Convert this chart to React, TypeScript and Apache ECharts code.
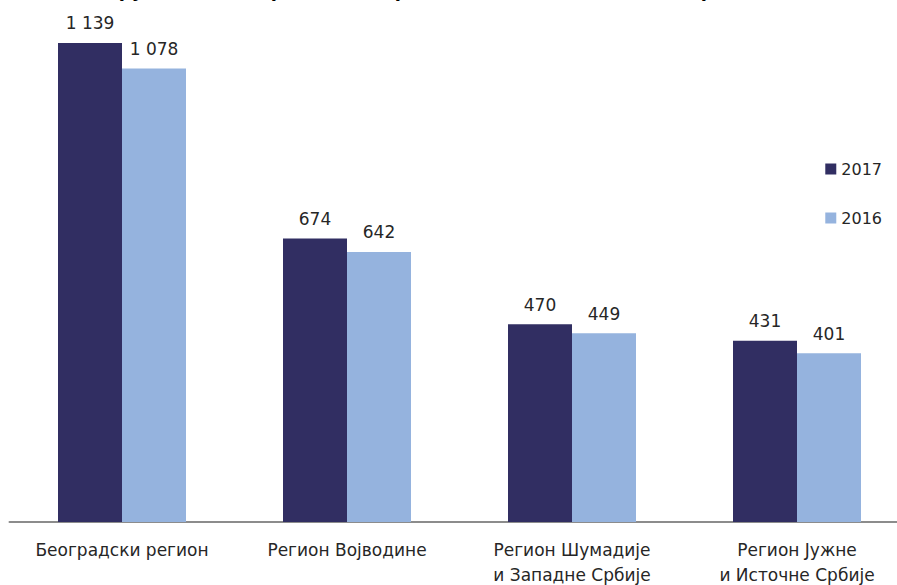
import React, { useEffect, useRef } from "react";
import * as echarts from "echarts";

const categories = [
  "Београдски регион",
  "Регион Војводине",
  "Регион Шумадије\nи Западне Србије",
  "Регион Јужне\nи Источне Србије",
];
const series2017 = [1139, 674, 470, 431];
const series2016 = [1078, 642, 449, 401];
const seriesNames = ["2017", "2016"];
const titleText = "Бруто домаћи производ по регионима, 2016. и 2017. (млрд. РСД)";

const FONT = "'DejaVu Sans', 'Open Sans', sans-serif";

function fmt(v: number): string {
  return String(v).replace(/\B(?=(\d{3})+(?!\d))/g, " ");
}

export default function App() {
  const ref = useRef<HTMLDivElement>(null);
  useEffect(() => {
    document.body.style.margin = "0";
    const chart = echarts.init(ref.current!, null, { renderer: "svg" });
    const label = {
      show: true,
      position: "top" as const,
      distance: 11,
      color: "#262626",
      fontSize: 17,
      fontFamily: FONT,
      formatter: (p: any) => fmt(p.value),
    };
    chart.setOption({
      animation: false,
      backgroundColor: "#ffffff",
      title: {
        text: titleText,
        left: "center",
        top: -24,
        textStyle: { fontSize: 18, fontWeight: "bold", color: "#000", fontFamily: FONT },
      },
      legend: {
        orient: "vertical",
        right: 10,
        top: 156,
        itemWidth: 11,
        itemHeight: 11,
        itemGap: 33,
        icon: "rect",
        textStyle: { fontSize: 16, color: "#262626", fontFamily: FONT },
        data: seriesNames,
      },
      grid: { left: 9.5, right: -12.5, top: 17.3, bottom: 63, outerBoundsMode: "none" },
      xAxis: {
        type: "category",
        data: categories,
        axisLine: { lineStyle: { color: "#8c8c8c", width: 2 } },
        axisTick: { show: false },
        axisLabel: {
          color: "#262626",
          fontSize: 17,
          fontFamily: FONT,
          margin: 15,
          lineHeight: 25,
          interval: 0,
        },
      },
      yAxis: { type: "value", min: 0, max: 1200, show: false, splitLine: { show: false } },
      series: [
        {
          name: seriesNames[0],
          type: "bar",
          data: series2017,
          barWidth: 64,
          barGap: "0%",
          itemStyle: { color: "#312e62" },
          label,
        },
        {
          name: seriesNames[1],
          type: "bar",
          data: series2016,
          barWidth: 64,
          barGap: "0%",
          itemStyle: { color: "#95b3de" },
          label,
        },
      ],
    });
    return () => chart.dispose();
  }, []);
  return <div ref={ref} style={{ width: 897, height: 585 }} />;
}
